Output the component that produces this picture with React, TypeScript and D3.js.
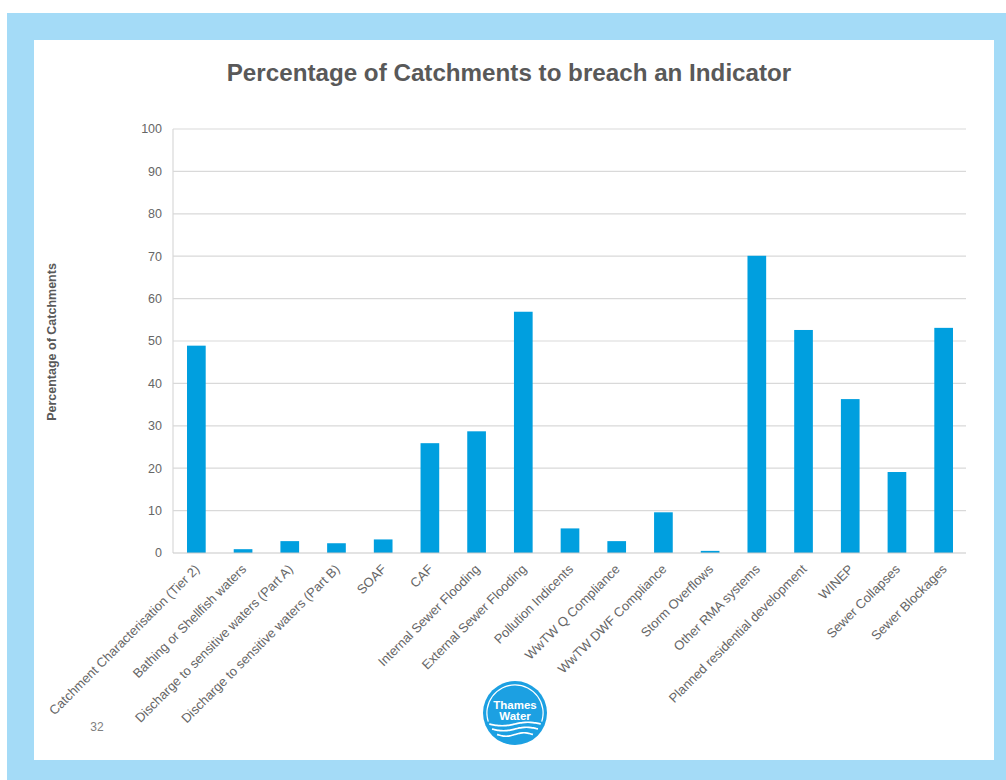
import React, { useEffect, useRef } from 'react';
import * as d3 from 'd3';

const categories = [
  'Catchment Characterisation (Tier 2)',
  'Bathing or Shellfish waters',
  'Discharge to sensitive waters (Part A)',
  'Discharge to sensitive waters (Part B)',
  'SOAF',
  'CAF',
  'Internal Sewer Flooding',
  'External Sewer Flooding',
  'Pollution Indicents',
  'WwTW Q Compliance',
  'WwTW DWF Compliance',
  'Storm Overflows',
  'Other RMA systems',
  'Planned residential development',
  'WINEP',
  'Sewer Collapses',
  'Sewer Blockages',
];

const values = [48.9, 0.9, 2.8, 2.3, 3.2, 25.9, 28.7, 56.9, 5.8, 2.8, 9.6, 0.5, 70.1, 52.6, 36.3, 19.1, 53.1];

const yTicks = [0, 10, 20, 30, 40, 50, 60, 70, 80, 90, 100];

const title = 'Percentage of Catchments to breach an Indicator';
const yLabel = 'Percentage of Catchments';
const pageNumber = '32';
const logoLines = ['Thames', 'Water'];

const FONT = "'Liberation Sans', Arial, sans-serif";
const TEXT = '#595959';
const BAR = '#009fdf';
const GRID = '#d9d9d9';
const FRAME = '#a4dbf7';
const LOGO = '#1ca0e2';

export default function App() {
  const ref = useRef<SVGSVGElement>(null);

  useEffect(() => {
    const svg = d3.select(ref.current);
    svg.selectAll('*').remove();

    // Frame
    svg.append('rect').attr('x', 0).attr('y', 0).attr('width', 1006).attr('height', 780).attr('fill', '#ffffff');
    svg.append('rect').attr('x', 7).attr('y', 13).attr('width', 999).attr('height', 767).attr('fill', FRAME);
    svg.append('rect').attr('x', 34).attr('y', 40).attr('width', 960).attr('height', 720).attr('fill', '#ffffff');

    const x = d3.scaleBand<string>().domain(categories).range([173, 967]).paddingInner(0.6).paddingOuter(0.3);
    const y = d3.scaleLinear().domain([0, 100]).range([553, 129]);

    // Title
    svg.append('text')
      .attr('x', 509).attr('y', 81)
      .attr('text-anchor', 'middle')
      .attr('font-family', FONT).attr('font-weight', 'bold').attr('font-size', 24.2)
      .attr('fill', TEXT)
      .text(title);

    // Grid lines
    const g = svg.append('g');
    g.selectAll('line.grid')
      .data(yTicks.filter((t) => t > 0))
      .join('line')
      .attr('class', 'grid')
      .attr('x1', 173).attr('x2', 966)
      .attr('y1', (d) => y(d)).attr('y2', (d) => y(d))
      .attr('stroke', GRID).attr('stroke-width', 1.2);

    // Y axis line
    g.append('line').attr('x1', 173).attr('x2', 173).attr('y1', y(100)).attr('y2', y(0)).attr('stroke', GRID).attr('stroke-width', 1.2);

    // Tick labels
    g.selectAll('text.ytick')
      .data(yTicks)
      .join('text')
      .attr('class', 'ytick')
      .attr('x', 162).attr('y', (d) => y(d))
      .attr('dy', '0.35em')
      .attr('text-anchor', 'end')
      .attr('font-family', FONT).attr('font-size', 12.5)
      .attr('fill', '#666666')
      .text((d) => String(d));

    // Bars
    g.selectAll('rect.bar')
      .data(categories)
      .join('rect')
      .attr('class', 'bar')
      .attr('x', (d) => x(d) as number)
      .attr('width', x.bandwidth())
      .attr('y', (d, i) => y(values[i]))
      .attr('height', (d, i) => y(0) - y(values[i]))
      .attr('fill', BAR);

    // X axis line
    g.append('line').attr('x1', 173).attr('x2', 966).attr('y1', y(0)).attr('y2', y(0)).attr('stroke', '#c8c8c8').attr('stroke-width', 1.2);

    // X labels
    g.selectAll('text.xlab')
      .data(categories)
      .join('text')
      .attr('class', 'xlab')
      .attr('transform', (d) => `translate(${(x(d) as number) + x.bandwidth() / 2 + 4},570) rotate(-45)`)
      .attr('text-anchor', 'end')
      .attr('font-family', FONT).attr('font-size', 13)
      .attr('fill', '#666666')
      .text((d) => d);

    // Y label
    svg.append('text')
      .attr('transform', 'translate(56,342) rotate(-90)')
      .attr('text-anchor', 'middle')
      .attr('font-family', FONT).attr('font-weight', 'bold').attr('font-size', 12.5)
      .attr('fill', TEXT)
      .text(yLabel);

    // Page number
    svg.append('text')
      .attr('x', 97).attr('y', 731)
      .attr('text-anchor', 'middle')
      .attr('font-family', FONT).attr('font-size', 12)
      .attr('fill', '#7f7f7f')
      .text(pageNumber);

    // Logo
    const cx = 515, cy = 713, r = 32;
    const lg = svg.append('g');
    lg.append('circle').attr('cx', cx).attr('cy', cy).attr('r', r).attr('fill', LOGO);
    const ring = d3.arc()({ innerRadius: r - 4.5, outerRadius: r - 3.3, startAngle: -Math.PI * 0.6, endAngle: Math.PI * 0.6 } as any);
    lg.append('path').attr('d', ring as string).attr('transform', `translate(${cx},${cy})`).attr('fill', '#ffffff');
    lg.selectAll('text.logo')
      .data(logoLines)
      .join('text')
      .attr('class', 'logo')
      .attr('x', cx).attr('y', (d, i) => cy - 4 + i * 11)
      .attr('text-anchor', 'middle')
      .attr('font-family', FONT).attr('font-weight', 'bold').attr('font-size', 11.5)
      .attr('fill', '#ffffff')
      .text((d) => d);
    const waveOffsets = [11, 16, 21.5];
    const ts = d3.range(0, 1.0001, 0.05);
    lg.selectAll('path.wave')
      .data(waveOffsets)
      .join('path')
      .attr('class', 'wave')
      .attr('d', (off) => {
        const hw = Math.sqrt((r - 4) * (r - 4) - off * off);
        const wave = d3.line<number>()
          .x((t) => cx - hw + t * 2 * hw)
          .y((t) => cy + off + Math.sin(t * Math.PI * 2) * 1.8)
          .curve(d3.curveBasis);
        return wave(ts) as string;
      })
      .attr('fill', 'none')
      .attr('stroke', '#ffffff')
      .attr('stroke-width', 1.7);
  }, []);

  return (
    <svg
      ref={ref}
      width={1006}
      height={780}
      style={{ position: 'absolute', left: 0, top: 0, display: 'block' }}
    />
  );
}
